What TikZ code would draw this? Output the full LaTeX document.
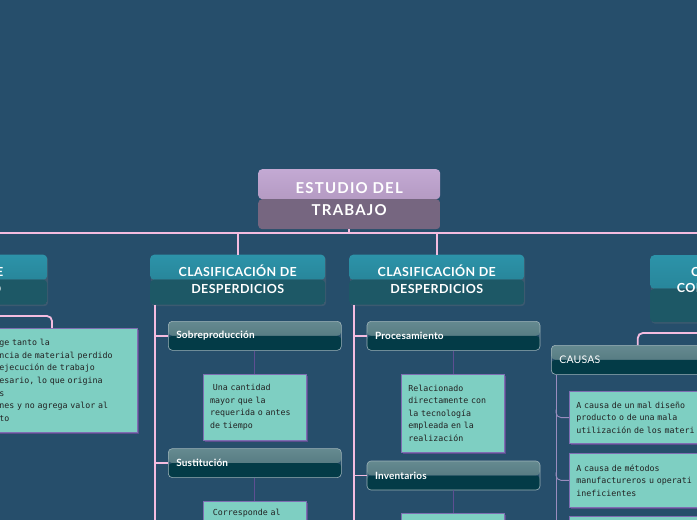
\documentclass[tikz,border=0pt]{standalone}
\usepackage{fontspec}
\setmainfont{Lato}
\newfontfamily\rootfnt{Lato}[LetterSpace=8]
\newfontfamily\boxfnt{Lato}[LetterSpace=3]
\newfontfamily\subfnt{Lato}[LetterSpace=2]
\newfontfamily\notefont{DejaVu Sans Mono}
\usetikzlibrary{shadows,calc}
\definecolor{bg}{HTML}{264E6B}
\definecolor{pinkln}{HTML}{F4BCE0}
\definecolor{roottop}{HTML}{C3A9D3}
\definecolor{rootmid}{HTML}{A68CB3}
\definecolor{rootbot}{HTML}{766680}
\definecolor{maintop}{HTML}{2C93A9}
\definecolor{mainmid}{HTML}{24798C}
\definecolor{mainbot}{HTML}{1D5866}
\definecolor{subtop}{HTML}{658A90}
\definecolor{submid}{HTML}{4A6E76}
\definecolor{subbot}{HTML}{033B47}
\definecolor{subbd}{HTML}{9DB2B8}
\definecolor{notefill}{HTML}{7ECFC2}
\definecolor{notebd}{HTML}{7E6DB2}
\definecolor{notesh}{HTML}{5B4E8E}
\definecolor{thinln}{HTML}{5E4F92}
\definecolor{thinlnb}{HTML}{9A8DBE}
\definecolor{notetext}{HTML}{222222}
\tikzset{
  twotone/.style n args={3}{path picture={
    \shade[top color=#1,bottom color=#2] (path picture bounding box.north west) rectangle (path picture bounding box.east);
    \fill[#3] (path picture bounding box.west) rectangle (path picture bounding box.south east);}},
  rootbox/.style={rounded corners=4pt, twotone={roottop}{rootmid}{rootbot},
    minimum width=182pt, minimum height=60pt, text=white,
    font=\rootfnt\fontsize{15}{21.5}\selectfont\bfseries, align=center, inner sep=0pt},
  mainbox/.style={rounded corners=4pt, twotone={maintop}{mainmid}{mainbot},
    minimum width=175pt, minimum height=50pt, text=white,
    font=\boxfnt\fontsize{12.5}{17}\selectfont\bfseries, align=center, inner sep=0pt,
    drop shadow={shadow xshift=1pt, shadow yshift=-1.5pt, opacity=0.25}},
  mainlabel/.style={text=white, font=\boxfnt\fontsize{12.5}{17}\selectfont\bfseries, inner sep=0pt},
  subbox/.style={rounded corners=4pt, draw=subbd, line width=0.6pt,
    twotone={subtop}{submid}{subbot}, minimum height=29pt, text width=157pt,
    inner xsep=8pt, inner ysep=0pt, align=left, text=white,
    font=\subfnt\fontsize{10}{11}\selectfont\bfseries},
  notebox/.style={draw=notebd, fill=notefill, line width=0.8pt,
    drop shadow={shadow xshift=1.5pt, shadow yshift=-1.5pt, fill=notesh, opacity=1},
    inner xsep=7pt, align=left, text=notetext,
    font=\notefont\fontsize{8.3}{12.6}\selectfont},
  pinkline/.style={draw=pinkln, line width=1.8pt},
  thinline/.style={draw=thinln, line width=0.9pt},
  thinlineb/.style={draw=thinlnb, line width=0.9pt},
}
\begin{document}
\begin{tikzpicture}[x=1pt,y=-1pt]
\path[use as bounding box] (0,0) rectangle (697,520);
\clip (0,0) rectangle (697,520);
\fill[bg] (0,0) rectangle (697,520);

% root
\node[rootbox, anchor=north west] (root) at (258,169) {ESTUDIO DEL\\TRABAJO};

% main boxes
\node[mainbox, anchor=north west] (lbox) at (-128,254.5) {};
\node[mainlabel, anchor=east] (lboxa) at (3.5,272) {E};
\node[mainlabel, anchor=east] (lboxb) at (1.5,289) {O};
\node[mainbox, anchor=north west] (c1) at (150,254.5) {CLASIFICACIÓN DE\\DESPERDICIOS};
\node[mainbox, anchor=north west] (c2) at (349,254.5) {CLASIFICACIÓN DE\\DESPERDICIOS};
\node[mainbox, anchor=north west, minimum height=67pt] (rbox) at (650,255) {};
\node[mainlabel, anchor=west] (rboxa) at (691,271.7) {C};
\node[mainlabel, anchor=west] (rboxb) at (676.7,287.7) {CON};

% top connectors
\coordinate (hl) at (-5,233);
\coordinate (hr) at (705,233);
\coordinate (bot) at (0,530);
\draw[pinkline] (hl) -- (hr);
\draw[pinkline] (root.south) -- (root.south |- hl);
\draw[pinkline] (c1.north) -- (c1.north |- hl);
\draw[pinkline] (c2.north) -- (c2.north |- hl);

% column 1
\node[subbox, anchor=north west] (s1) at (168,321) {Sobreproducción};
\node[subbox, anchor=north west] (s2) at (168,448.3) {Sustitución};
\coordinate (c1v) at ([xshift=5.3pt]c1.south west);
\draw[pinkline] (c1v) -- (c1v |- bot);
\draw[pinkline] (c1v |- s1.west) -- (s1.west);
\draw[pinkline] (c1v |- s2.west) -- (s2.west);
\node[notebox, anchor=north west, text width=89pt, minimum height=66pt] (n1) at (202.7,374)
  {\ Una cantidad\\mayor que la\\requerida o antes\\de tiempo};
\node[notebox, anchor=north west, text width=89pt, inner ysep=8pt] (n2) at (202.7,501)
  {\ Corresponde al\\[6pt]\mbox{}};
\draw[thinline] (s1.south) -- (s1.south |- n1.north);
\draw[thinline] (s2.south) -- (s2.south |- n2.north);

% column 2
\node[subbox, anchor=north west] (p1) at (366.7,321) {Procesamiento};
\node[subbox, anchor=north west] (p2) at (366.7,460.7) {Inventarios};
\coordinate (c2v) at ([xshift=5.3pt]c2.south west);
\draw[pinkline] (c2v) -- (c2v |- bot);
\draw[pinkline] (c2v |- p1.west) -- (p1.west);
\draw[pinkline] (c2v |- p2.west) -- (p2.west);
\node[notebox, anchor=north west, text width=89pt, minimum height=77.7pt] (n3) at (401,374)
  {Relacionado\\directamente con\\la tecnología\\empleada en la\\realización};
\node[notebox, anchor=north west, minimum width=103pt, minimum height=30pt] (n4) at (401,513.3) {};
\draw[thinline] (p1.south) -- (p1.south |- n3.north);
\draw[thinline] (p2.south) -- (p2.south |- n4.north);

% left note
\node[notebox, anchor=north west, text width=131pt, minimum height=104pt] (lnote) at (-8,328)
  {ge tanto la\\ncia de material perdido\\ejecución de trabajo\\esario, lo que origina\\s\\nes y no agrega valor al\\to};
\coordinate (lc) at (-5,316);
\coordinate (ldrop) at (52,328);
\draw[pinkline, rounded corners=5pt] (lc) -| (lnote.north -| ldrop);

% right side
\node[subbox, anchor=north west, font=\subfnt\fontsize{10.5}{12}\selectfont] (causas) at (551,345) {CAUSAS};
\coordinate (rc) at (705,333);
\draw[pinkline, rounded corners=5pt] (rc) -| (causas.north);
\node[notebox, anchor=north west, text width=160pt, minimum height=52.3pt] (cn1) at (569,391)
  {A causa de un mal diseño\\producto o de una mala\\utilización de los materi};
\node[notebox, anchor=north west, text width=160pt, minimum height=53.3pt] (cn2) at (569,453.3)
  {A causa de métodos\\manufactureros u operati\\ineficientes};
\node[notebox, anchor=north west, minimum width=174pt, minimum height=30pt] (cn3) at (569,515.7) {};
\coordinate (cav) at ([xshift=5pt]causas.south west);
\draw[thinlineb] (cav) -- (cav |- bot);
\draw[thinlineb, rounded corners=5pt] ($(cav |- cn1.west)+(0,-8)$) |- (cn1.west);
\draw[thinlineb, rounded corners=5pt] ($(cav |- cn2.west)+(0,-8)$) |- (cn2.west);
\end{tikzpicture}
\end{document}
